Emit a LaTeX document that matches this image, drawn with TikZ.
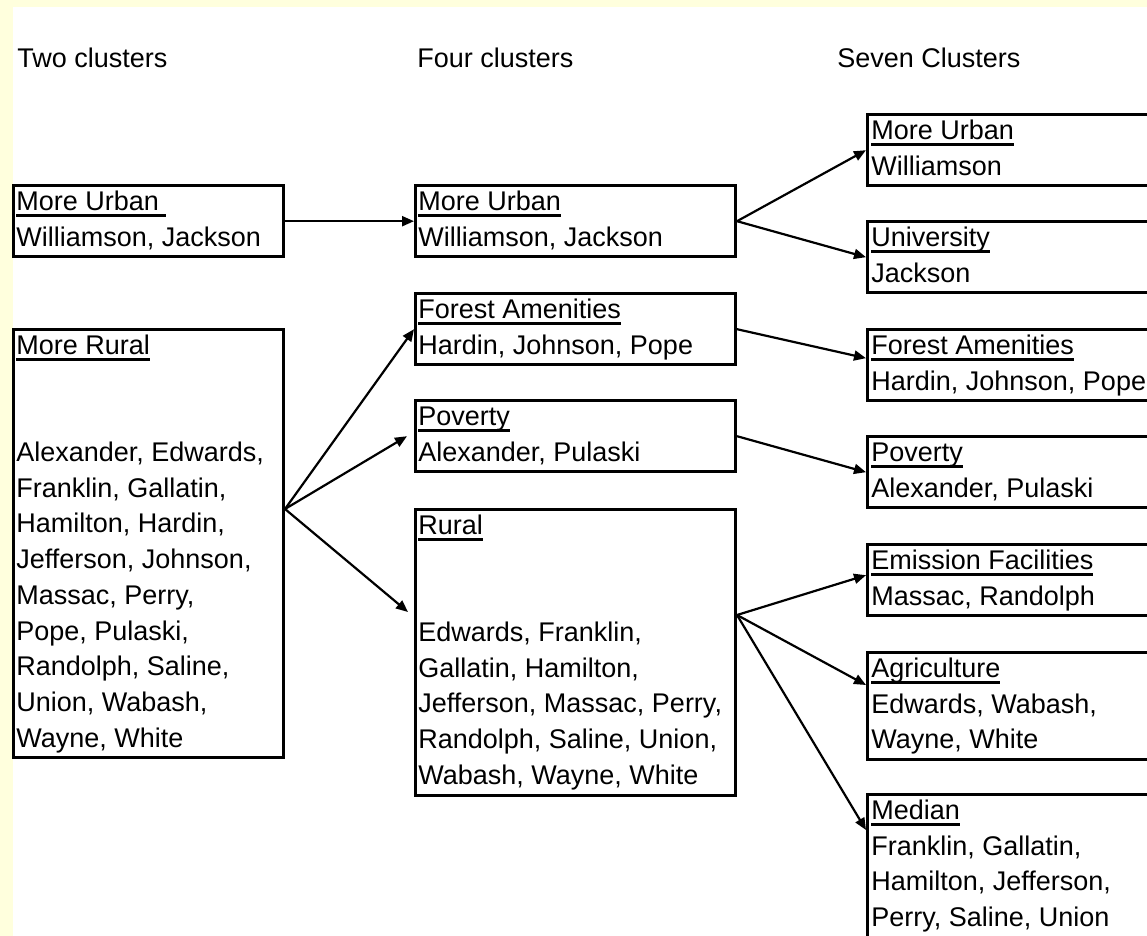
\documentclass[tikz,border=0pt]{standalone}
\usepackage{fontspec}
\setmainfont{Liberation Sans}
\usetikzlibrary{arrows.meta,calc}
\definecolor{strip}{RGB}{255,255,221}
\newcommand\hdr[1]{\setbox0\hbox{#1}\rlap{\rule[-3.3pt]{\wd0}{1.4pt}}\box0}
\newcommand\st{\rule[-4.85pt]{0pt}{17.85pt}}
\begin{document}
\begin{tikzpicture}[x=0.5pt,y=-0.5pt,
  box/.style={draw=black,line width=1.5pt,rectangle,inner sep=0pt,anchor=north west},
  lbox/.style={box,minimum width=135pt},
  mbox/.style={box,minimum width=160pt},
  rbox/.style={box,minimum width=150pt},
  txt/.style={anchor=north west,inner sep=0pt,align=left,font=\fontsize{13.5pt}{17.85pt}\selectfont},
  head/.style={anchor=base west,inner sep=0pt,font=\fontsize{13.5pt}{17.85pt}\selectfont},
  arr/.style={draw=black,line width=1.1pt,-{Triangle[length=6pt,width=5pt]}}]
\path[use as bounding box] (0,0) rectangle (1147,936);
\clip (0,0) rectangle (1147,936);
\fill[white] (0,0) rectangle (1147,936);
\fill[strip] (0,0) rectangle (13,936);
\fill[strip] (0,0) rectangle (1147,7);

% headings
\node[head] (h2) at (17,68) {Two clusters};
\node[head] (h4) at (417,68) {Four clusters};
\node[head] (h7) at (837,68) {Seven Clusters};

% two clusters
\node[lbox,minimum height=35.7pt] (L1) at (12,184) {};
\node[lbox,minimum height=214.2pt] (L2) at (12,328) {};
% four clusters
\node[mbox,minimum height=35.7pt] (M1) at (414,184) {};
\node[mbox,minimum height=35.7pt] (M2) at (414,292) {};
\node[mbox,minimum height=35.7pt] (M3) at (414,399) {};
\node[mbox,minimum height=142.8pt] (M4) at (414,508) {};
% seven clusters
\node[rbox,minimum height=35.7pt] (R1) at (866,113) {};
\node[rbox,minimum height=35.7pt] (R2) at (866,220) {};
\node[rbox,minimum height=35.7pt] (R3) at (866,328) {};
\node[rbox,minimum height=35.7pt] (R4) at (866,435) {};
\node[rbox,minimum height=35.7pt] (R5) at (866,543) {};
\node[rbox,minimum height=53.55pt] (R6) at (866,651) {};
\node[rbox,minimum height=100pt] (R7) at (866,793) {};

% texts
\node[txt] (tL1) at ($(L1.north west)+(4,0)$) {\st\hdr{More Urban\ }\\\st Williamson, Jackson};
\node[txt] (tL2) at ($(L2.north west)+(4,0)$) {\st\hdr{More Rural}\\\st\\\st\\\st Alexander, Edwards,\\\st Franklin, Gallatin,\\\st Hamilton, Hardin,\\\st Jefferson, Johnson,\\\st Massac, Perry,\\\st Pope, Pulaski,\\\st Randolph, Saline,\\\st Union, Wabash,\\\st Wayne, White};
\node[txt] (tM1) at ($(M1.north west)+(4,0)$) {\st\hdr{More Urban}\\\st Williamson, Jackson};
\node[txt] (tM2) at ($(M2.north west)+(4,0)$) {\st\hdr{Forest Amenities}\\\st Hardin, Johnson, Pope};
\node[txt] (tM3) at ($(M3.north west)+(4,0)$) {\st\hdr{Poverty}\\\st Alexander, Pulaski};
\node[txt] (tM4) at ($(M4.north west)+(4,0)$) {\st\hdr{Rural}\\\st\\\st\\\st Edwards, Franklin,\\\st Gallatin, Hamilton,\\\st Jefferson, Massac, Perry,\\\st Randolph, Saline, Union,\\\st Wabash, Wayne, White};
\node[txt] (tR1) at ($(R1.north west)+(5,0)$) {\st\hdr{More Urban}\\\st Williamson};
\node[txt] (tR2) at ($(R2.north west)+(5,0)$) {\st\hdr{University}\\\st Jackson};
\node[txt] (tR3) at ($(R3.north west)+(5,0)$) {\st\hdr{Forest Amenities}\\\st Hardin, Johnson, Pope};
\node[txt] (tR4) at ($(R4.north west)+(5,0)$) {\st\hdr{Poverty}\\\st Alexander, Pulaski};
\node[txt] (tR5) at ($(R5.north west)+(5,0)$) {\st\hdr{Emission Facilities}\\\st Massac, Randolph};
\node[txt] (tR6) at ($(R6.north west)+(5,0)$) {\st\hdr{Agriculture}\\\st Edwards, Wabash,\\\st Wayne, White};
\node[txt] (tR7) at ($(R7.north west)+(5,0)$) {\st\hdr{Median}\\\st Franklin, Gallatin,\\\st Hamilton, Jefferson,\\\st Perry, Saline, Union};

% fork points and arrow ends
\coordinate (f2) at ($(L2.north east)+(0,181)$);
\coordinate (f4) at ($(M4.north east)+(0,107)$);
\coordinate (e3) at ($(M3.west)+(-7,0)$);
\coordinate (e4) at ($(M4.north west)+(-6,104)$);
\coordinate (eR3) at ($(R3.west)+(0,-7)$);
\coordinate (eR5) at ($(R5.west)+(0,-5)$);
\coordinate (eR6) at ($(R6.north west)+(0,34)$);
\coordinate (eR7) at ($(R7.north west)+(0,37)$);

% connectors
\draw[arr] (L1.east) -- (M1.west);
\draw[arr] (f2) -- (M2.west);
\draw[arr] (f2) -- (e3);
\draw[arr] (f2) -- (e4);
\draw[arr] (M1.east) -- (R1.west);
\draw[arr] (M1.east) -- (R2.west);
\draw[arr] (M2.east) -- (eR3);
\draw[arr] (M3.east) -- (R4.west);
\draw[arr] (f4) -- (eR5);
\draw[arr] (f4) -- (eR6);
\draw[arr] (f4) -- (eR7);
\end{tikzpicture}
\end{document}
